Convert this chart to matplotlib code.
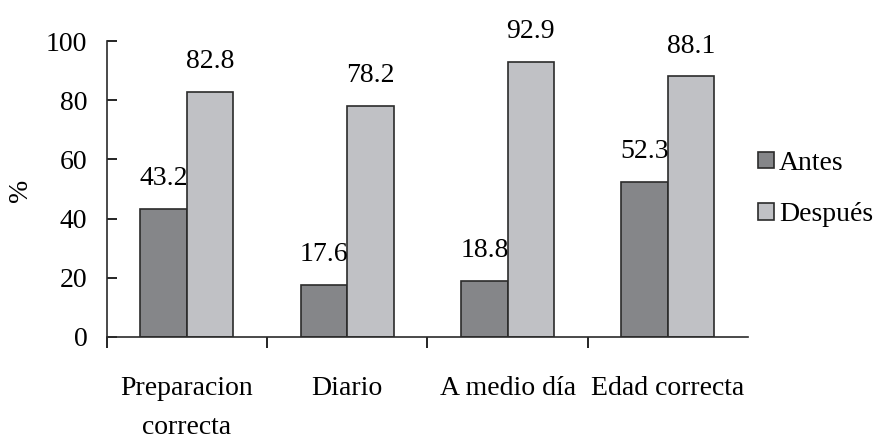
import numpy as np
import matplotlib.pyplot as plt

categories = ["Preparacion\ncorrecta", "Diario", "A medio día", "Edad correcta"]
antes = [43.2, 17.6, 18.8, 52.3]
despues = [82.8, 78.2, 92.9, 88.1]
series_names = ["Antes", "Después"]
yticks = [0, 20, 40, 60, 80, 100]

plt.rcParams["font.family"] = ["Liberation Serif", "DejaVu Serif"]
fs = 20

fig = plt.figure(figsize=(8.75, 4.42), dpi=100)
ax = fig.add_axes([0.122, 0.238, 0.733, 0.669])

x = np.arange(len(categories))
w = 0.29
b1 = ax.bar(x - w / 2, antes, w, color="#858689", edgecolor="#2b2b2b", linewidth=1.2, label=series_names[0])
b2 = ax.bar(x + w / 2, despues, w, color="#c0c1c5", edgecolor="#2b2b2b", linewidth=1.2, label=series_names[1])

for bars, vals in [(b1, antes), (b2, despues)]:
    for rect, v in zip(bars, vals):
        ax.text(rect.get_x() + rect.get_width() / 2, v + 6, f"{v:.1f}",
                ha="center", va="bottom", fontsize=fs)

ax.set_xlim(-0.5, len(categories) - 0.5)
ax.set_ylim(0, 100)
ax.set_yticks(yticks)
ax.tick_params(axis="y", direction="in", length=7, width=1.2, labelsize=fs, pad=14)

ax.set_xticks(x)
ax.set_xticklabels(categories, fontsize=fs, linespacing=1.75)
ax.tick_params(axis="x", which="major", length=0, pad=28)
ax.set_xticks(np.arange(len(categories)) - 0.5, minor=True)
ax.tick_params(axis="x", which="minor", direction="out", length=8, width=1.2)

for s in ["top", "right"]:
    ax.spines[s].set_visible(False)
for s in ["left", "bottom"]:
    ax.spines[s].set_linewidth(1.2)
    ax.spines[s].set_color("#2b2b2b")

# y label sits close to the left edge of the figure
fig.text(20 / 875, 1 - 190 / 442, "%", rotation=90, fontsize=fs, ha="center", va="center")

ax.legend(loc="center left", bbox_to_anchor=(0.99, 0.5), frameon=False, fontsize=fs,
          handlelength=0.55, handleheight=0.55, handletextpad=0.2, labelspacing=0.95,
          borderaxespad=0.2)

fig.savefig("out.png", dpi=100)
